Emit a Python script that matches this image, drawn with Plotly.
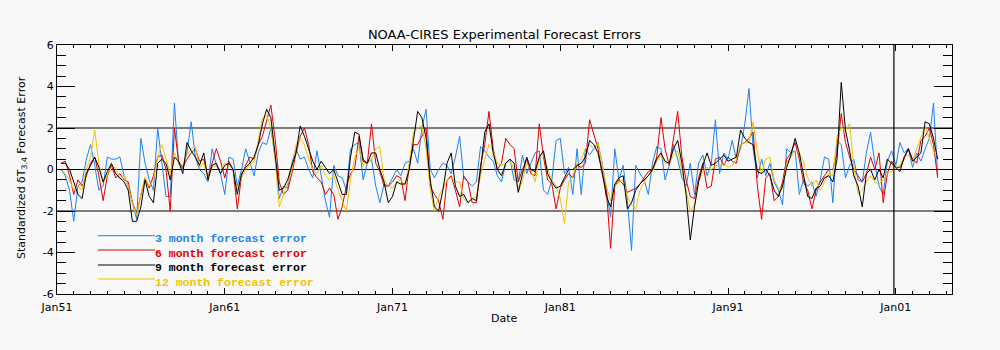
import pandas as pd
import plotly.graph_objects as go

# quarterly sample dates, Apr 1951 .. Jul 2003
dates = pd.date_range("1951-04-01", "2003-07-01", freq="3MS")

err3 = [
    0.0,-0.3,-1.0,-2.5,-0.8,-0.6,0.5,1.2,0.2,-1.0,-0.8,0.6,0.5,0.5,0.6,-0.3,-0.8,-1.6,-2.4,1.5,0.3,-0.5,-1.0,2.0,0.4,-1.3,-1.3,3.2,0.3,0.0,0.8,2.3,0.6,0.0,-0.2,-0.6,
    1.0,0.2,-0.2,-1.2,0.6,0.5,-0.8,0.0,1.0,0.4,-0.3,0.8,1.3,1.2,2.0,0.6,-1.4,-0.8,-0.9,0.3,1.0,0.5,0.6,0.0,-0.4,0.9,-0.3,-1.5,-2.3,0.2,-0.3,-0.4,-1.0,1.0,1.2,1.3,
    -0.5,0.3,0.5,-0.8,-1.6,-0.7,-0.8,-0.4,0.0,-0.3,0.3,0.4,1.0,0.3,2.0,2.9,0.0,-0.4,0.0,0.3,0.2,-0.2,0.6,1.6,-0.4,-0.6,-0.8,-0.6,1.1,0.9,0.6,0.4,-0.3,-0.6,0.3,0.5,
    -0.5,-0.6,0.7,-0.2,0.3,0.8,0.9,-1.0,-1.2,-0.5,1.4,1.5,-0.2,0.1,-1.2,1.0,-1.2,1.0,0.7,1.0,1.3,0.3,-1.0,-2.3,1.0,-0.5,0.2,-1.5,-3.9,0.2,-0.2,-0.5,-1.2,0.3,1.1,1.0,
    -0.5,0.2,1.2,0.5,-0.4,-0.8,0.3,-1.2,0.3,0.7,-0.3,0.3,2.4,-0.2,0.8,0.5,1.4,0.5,1.0,2.2,3.9,1.0,-0.4,0.5,-0.3,0.3,-0.6,-1.0,-1.7,1.0,0.8,0.9,-1.2,-0.5,-0.8,-0.6,
    -1.3,-0.5,0.6,0.5,-1.6,1.4,1.2,-0.4,0.2,0.5,-0.5,-0.6,0.8,1.8,0.3,-0.8,-1.2,0.4,0.9,0.2,1.3,0.8,1.0,0.1,0.8,0.4,1.0,1.5,3.2,-0.3,
]
err6 = [
    0.3,0.4,-0.3,-1.2,-0.5,-0.8,-0.3,0.3,0.6,-0.3,-1.5,-0.3,0.2,-0.4,-0.2,-0.5,-0.6,-1.6,-2.1,-1.2,-0.4,-0.9,-0.3,0.6,0.7,0.0,-2.0,2.0,0.4,0.1,0.5,0.8,1.0,0.4,0.5,-0.4,
    0.3,1.0,0.4,-0.4,0.4,0.0,-1.9,-0.3,0.2,0.6,0.5,1.2,1.6,2.3,3.1,1.5,-0.6,-1.2,-1.0,-0.2,0.8,1.6,2.0,1.2,-0.1,-0.4,-0.6,-1.2,-0.9,-1.2,-2.4,-1.8,-0.8,-0.2,0.1,1.6,
    0.5,0.3,2.2,0.3,-0.1,-0.8,-0.8,-0.6,-0.3,-0.4,-1.5,0.2,1.2,1.2,1.6,2.0,-0.8,-1.2,-1.5,-2.4,-0.5,-0.3,-1.0,-1.8,-0.3,-0.6,-1.6,-1.6,0.2,1.2,2.8,1.0,0.0,0.3,1.5,1.2,
    1.0,-0.6,0.0,0.5,-0.2,-0.3,2.2,0.6,-0.5,-0.7,-1.9,-0.9,-0.5,-0.2,-0.4,0.2,0.1,0.3,2.4,1.7,1.0,-0.2,-1.0,-3.8,-0.8,-0.5,-0.7,-1.1,-1.0,-0.9,-0.7,-0.4,-0.1,0.0,0.6,2.5,
    1.0,0.2,1.5,2.8,0.6,-0.5,-1.3,-1.4,-0.4,0.3,-0.9,-0.8,0.5,0.6,0.2,0.6,0.4,0.3,1.2,1.3,1.5,1.8,-0.8,-2.4,-0.4,-0.2,-1.5,-1.3,-0.6,0.5,0.8,1.3,0.5,-0.6,-1.0,-1.9,
    -1.0,-0.6,-0.3,0.0,0.0,0.8,2.7,1.3,0.6,0.0,-0.3,-0.6,-0.2,0.6,0.0,0.8,-1.6,-0.2,0.4,0.1,0.1,0.5,1.0,0.5,0.3,1.4,1.6,2.0,1.2,-0.4,
]
err9 = [
    0.3,0.3,0.0,-0.6,-1.2,-1.4,-0.2,0.2,0.6,0.1,-0.6,-0.1,0.3,-0.2,-0.4,-0.6,-1.0,-2.5,-2.5,-1.8,-0.5,-1.3,-1.6,0.3,0.5,0.3,-0.5,0.6,0.4,-0.2,1.3,0.9,0.6,0.2,0.8,-0.5,
    0.2,0.3,-0.2,0.2,0.3,0.0,-1.2,-0.2,0.1,0.3,0.6,1.2,2.2,2.9,2.5,0.8,-1.0,-0.9,-0.5,0.2,0.8,2.1,1.6,1.0,0.4,0.0,0.4,0.1,-0.2,0.0,-0.6,-1.2,-1.2,0.6,1.8,1.7,
    0.4,0.3,0.8,0.8,0.0,-0.6,-1.6,-1.3,-0.6,-0.7,-0.7,0.0,1.4,2.8,2.5,1.5,-0.5,-1.8,-2.0,-1.0,0.3,0.8,-0.8,-1.3,-1.2,-1.6,-1.4,-1.5,0.0,1.8,2.2,0.8,0.0,-0.3,0.3,0.5,
    0.3,-1.1,-0.2,0.6,0.0,-0.1,0.6,0.9,-0.2,-0.6,-0.9,-0.8,-0.4,0.0,0.0,0.2,0.3,0.6,1.4,1.2,0.8,-0.1,-1.3,-1.8,-0.7,-0.4,-0.3,-1.9,-1.6,-1.0,-0.7,-0.5,-0.3,0.0,0.5,0.8,
    0.4,0.3,1.0,1.4,0.3,-1.2,-3.4,-1.8,-0.6,0.2,0.8,0.2,0.3,0.5,0.7,0.4,0.5,0.6,1.9,1.5,1.3,1.2,-0.1,-0.2,0.0,-0.3,-1.0,-1.3,-0.8,0.1,0.7,1.5,0.8,-0.3,-1.3,-1.4,
    -0.9,-0.8,-0.4,-0.3,-0.6,0.5,4.2,1.9,0.9,-0.3,-0.8,-1.8,-0.2,0.0,-0.5,0.0,-0.4,0.5,0.3,0.1,-0.1,0.6,1.0,0.4,0.6,0.8,2.3,2.2,1.5,0.5,
]
err12 = [
    0.0,-0.2,-0.5,-1.0,-0.8,-1.0,0.0,0.6,1.9,0.3,-0.6,-0.3,0.1,0.1,-0.5,-0.3,-0.8,-1.6,-2.2,-1.2,-0.4,-0.8,-0.5,0.6,1.2,0.5,-0.2,0.8,0.3,0.2,0.7,1.0,1.1,0.1,0.3,-0.4,
    0.1,0.2,0.0,0.3,0.3,0.0,-1.0,-0.4,0.0,0.2,0.4,1.4,2.5,2.6,2.0,0.5,-1.8,-1.2,-0.7,0.0,1.2,1.5,1.2,0.5,0.0,-0.2,0.2,-0.3,-0.5,-0.3,-1.0,-1.5,-2.0,-0.5,0.6,1.0,
    0.2,0.3,0.5,1.0,1.1,-0.5,-0.8,-0.9,-0.6,-0.5,-0.8,0.3,1.8,2.0,2.1,1.0,-1.0,-2.0,-1.3,-0.9,-0.5,-0.4,-0.6,-0.6,-1.4,-1.6,-1.4,-1.3,-0.3,0.5,1.2,0.9,0.3,0.2,0.3,0.4,
    0.0,-1.1,-0.5,0.3,0.0,-0.6,0.5,0.7,0.0,-0.5,-0.8,-1.4,-2.6,-0.6,-0.3,0.3,0.5,1.0,1.2,1.0,1.3,0.2,-0.8,-1.5,-0.8,-0.6,-0.5,-1.3,-1.7,-1.9,-1.0,-0.6,-0.3,-0.1,0.4,0.7,
    0.3,0.3,0.7,0.9,0.0,-1.0,-2.0,-1.7,-0.6,-0.1,0.1,0.0,0.2,0.2,0.3,0.1,0.2,0.5,1.2,1.3,1.3,2.3,0.8,-0.2,0.5,0.6,-0.5,-0.9,-0.9,0.3,0.6,0.9,0.8,0.4,-0.4,-0.8,
    -0.5,-1.0,-0.6,-0.2,-0.3,1.6,2.0,1.9,2.2,0.2,-1.2,-1.0,-0.6,-0.3,-0.6,-0.7,-0.5,-0.2,-0.1,0.1,0.2,0.6,0.7,0.4,1.0,1.6,2.1,1.5,0.9,0.6,
]

series_names = ["3 month forecast error", "6 month forecast error",
                "9 month forecast error", "12 month forecast error"]
series_colors = ["#1e82f0", "#e00000", "#000000", "#f2c200"]
series_values = [err3, err6, err9, err12]
draw_order = [0, 1, 3, 2]

y_tickvals = [-6, -4, -2, 0, 2, 4, 6]
y_ticktext = ["-6", "-4", "-2", "0", "2", "4", "6"]
ref_levels = [-2, 0, 2]
divider_date = "2000-11-20"

BG = "#f8f8f8"
L, R, T, B = 57, 48, 45, 56
W, H = 1000, 350
pw, ph = W - L - R, H - T - B

fig = go.Figure()
for i in draw_order:
    fig.add_trace(go.Scatter(x=dates, y=series_values[i], mode="lines",
                             line=dict(color=series_colors[i], width=1),
                             name=series_names[i], showlegend=False))

for lv in ref_levels:
    fig.add_shape(type="line", xref="paper", x0=0, x1=1, yref="y", y0=lv, y1=lv,
                  line=dict(color="black", width=1), layer="below")
fig.add_shape(type="line", xref="x", x0=divider_date, x1=divider_date, yref="paper",
              y0=0, y1=1, line=dict(color="black", width=1.2))

# legend
leg_line_y = [235.7, 250, 265, 279]
leg_text_y = [238.5, 253, 267.5, 282]
for i in range(4):
    yl = (T + ph - leg_line_y[i]) / ph
    fig.add_shape(type="line", xref="paper", yref="paper",
                  x0=(98 - L) / pw, x1=(155 - L) / pw, y0=yl, y1=yl,
                  line=dict(color=series_colors[i], width=1))
    fig.add_annotation(xref="paper", yref="paper", x=(153 - L) / pw,
                       y=(T + ph - leg_text_y[i]) / ph, xanchor="left", yanchor="middle",
                       text="<b>" + series_names[i] + "</b>", showarrow=False,
                       font=dict(family="Liberation Mono", size=11.5, color=series_colors[i]))

fig.add_annotation(xref="paper", yref="paper", x=0.5, y=(T + ph - 318) / ph,
                   text="Date", showarrow=False, yanchor="middle",
                   font=dict(family="DejaVu Sans", size=11, color="black"))
fig.add_annotation(xref="paper", yref="paper", x=(22 - L) / pw, y=(T + ph - 168) / ph,
                   text="Standardized δT<sub>3.4</sub> Forecast Error", textangle=-90,
                   showarrow=False, xanchor="center", yanchor="middle",
                   font=dict(family="DejaVu Sans", size=11, color="black"))

fig.update_layout(
    width=W, height=H,
    margin=dict(l=L, r=R, t=T, b=B),
    paper_bgcolor=BG, plot_bgcolor=BG,
    title=dict(text="NOAA-CIRES Experimental Forecast Errors", x=(L + pw / 2) / W,
               xref="container", y=1 - 34 / H, yref="container",
               xanchor="center", yanchor="middle",
               font=dict(family="DejaVu Sans", size=13, color="black")),
    font=dict(family="DejaVu Sans", size=11, color="black"),
    showlegend=False,
)
fig.update_xaxes(
    type="date", range=["1951-01-01", "2004-05-08"],
    tick0="1951-01-01", dtick="M120", tickformat="%b%y",
    ticks="inside", ticklen=6, tickcolor="black", tickwidth=1,
    ticklabelstandoff=3,
    minor=dict(dtick="M12", ticks="inside", ticklen=3, tickcolor="black", showgrid=False),
    showline=True, linecolor="black", linewidth=1, mirror="allticks",
    showgrid=False, zeroline=False,
    tickfont=dict(family="DejaVu Sans", size=11, color="black"),
)
fig.update_yaxes(
    range=[-6, 6], tickvals=y_tickvals, ticktext=y_ticktext,
    ticks="inside", ticklen=18, tickcolor="black", tickwidth=1,
    minor=dict(dtick=0.5, ticks="inside", ticklen=9, tickcolor="black", showgrid=False),
    showline=True, linecolor="black", linewidth=1, mirror="allticks",
    showgrid=False, zeroline=False,
    tickfont=dict(family="DejaVu Sans", size=11, color="black"),
)

fig.write_html("out.html")
